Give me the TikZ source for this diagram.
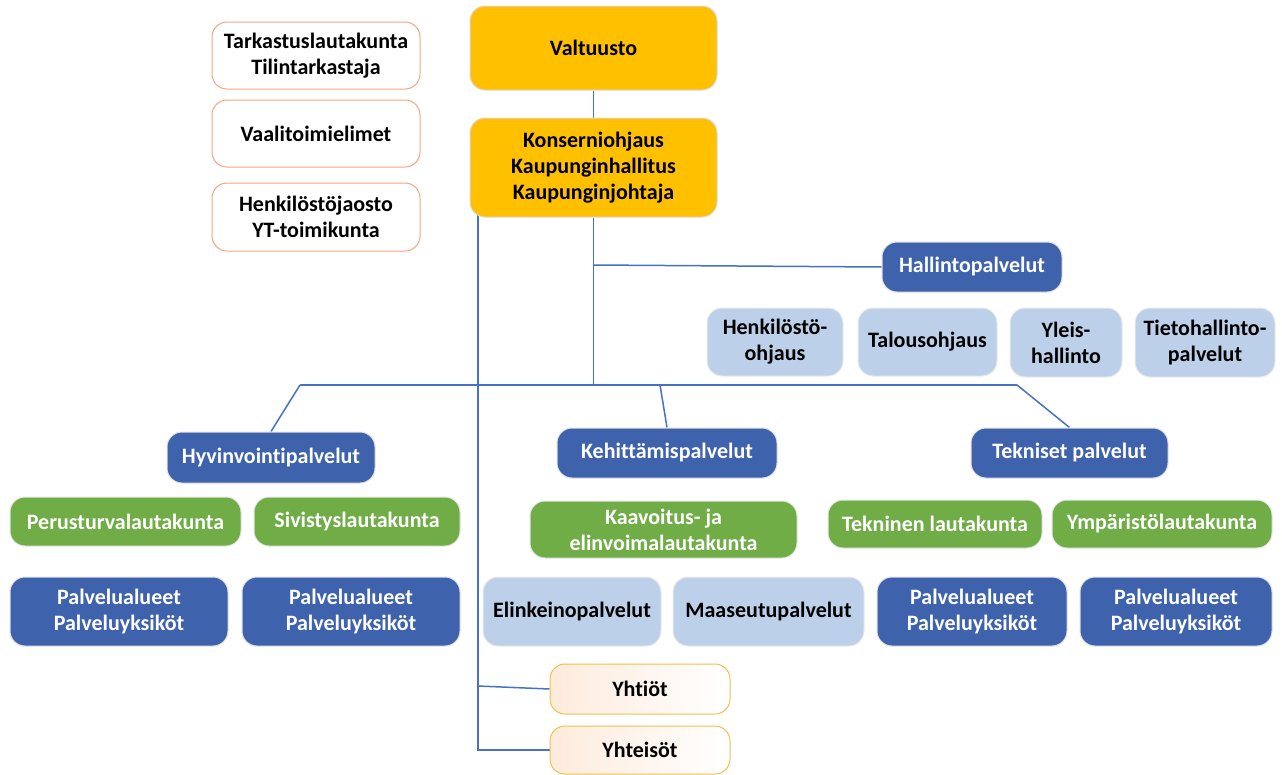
\documentclass[tikz,border=0pt]{standalone}
\usepackage{fontspec}
\setmainfont{Carlito}[Ligatures=NoCommon]
\usetikzlibrary{backgrounds}
\definecolor{gold}{HTML}{FFC000}
\definecolor{dblue}{HTML}{3F62AD}
\definecolor{lblue}{HTML}{BDD0E9}
\definecolor{lgreen}{HTML}{70AD47}
\definecolor{orng}{HTML}{F4A582}
\definecolor{ylw}{HTML}{F0C04A}
\definecolor{peach}{HTML}{FDEBDC}
\definecolor{conn}{HTML}{4472C4}
\tikzset{
  base/.style={rounded corners=15pt, align=center, font=\bfseries\fontsize{22}{26}\selectfont, inner sep=1pt},
  goldbox/.style={base, fill=gold, draw=black!15, line width=1pt, text=black},
  orbox/.style={base, fill=white, draw=orng, line width=1pt, text=black},
  dbbox/.style={base, fill=dblue, draw=black!12, line width=1pt, text=white},
  lbbox/.style={base, fill=lblue, draw=black!8, line width=1pt, text=black},
  grbox/.style={base, fill=lgreen, draw=black!10, line width=1pt, text=white},
  ylbox/.style={base, left color=peach, right color=white, draw=ylw, line width=1pt, text=black},
  link/.style={draw=conn, line width=1.5pt}
}
\newcommand\bx[7]{\node[#1, minimum width=#5pt, minimum height=#6pt] (#2) at (#3,#4) {#7};}
\begin{document}
\begin{tikzpicture}[x=1pt,y=-1pt]
\useasboundingbox (0,0) rectangle (1282,774);
\coordinate (trunkA) at (593.5,265);
\coordinate (bus) at (593.5,385);
\coordinate (busL) at (300,385);
\coordinate (busM) at (660,385);
\coordinate (busR) at (1017,385);
\coordinate (lt) at (478,205);
\coordinate (lt1) at (478,686);
\coordinate (lt2) at (478,750);

\bx{goldbox}{val}{593.5}{48}{247}{84}{Valtuusto}
\bx{goldbox}{kon}{593.5}{167.5}{247}{99}{Konserniohjaus\\Kaupunginhallitus\\Kaupunginjohtaja}
\bx{orbox}{tark}{316}{55.5}{208}{67}{Tarkastuslautakunta\\Tilintarkastaja}
\bx{orbox}{vaali}{316}{133.5}{208}{67}{Vaalitoimielimet}
\bx{orbox}{henk}{316}{217}{208}{68}{Henkilöstöjaosto\\YT-toimikunta}
\bx{dbbox}{hall}{972}{267}{180}{50}{Hallintopalvelut}
\bx{lbbox}{hoh}{775}{342}{136}{68}{Henkilöstö-\\ohjaus}
\bx{lbbox}{tal}{927.5}{342}{139}{68}{Talousohjaus}
\bx{lbbox}{yle}{1066}{342.5}{112}{69}{Yleis-\\hallinto}
\bx{lbbox}{tie}{1205}{342.5}{140}{69}{Tietohallinto-\\palvelut}
\bx{dbbox}{hyv}{271}{457.5}{208}{51}{Hyvinvointipalvelut}
\bx{dbbox}{keh}{667}{453}{220}{50}{Kehittämispalvelut}
\bx{dbbox}{tek}{1069.5}{453}{197}{50}{Tekniset palvelut}
\bx{grbox}{per}{125.5}{521.5}{231}{49}{Perusturvalautakunta}
\bx{grbox}{siv}{357}{521.5}{206}{49}{Sivistyslautakunta}
\bx{grbox}{kaa}{663.5}{529.5}{267}{57}{Kaavoitus- ja\\elinvoimalautakunta}
\bx{grbox}{tekl}{935}{524}{214}{48}{Tekninen lautakunta}
\bx{grbox}{ymp}{1162}{524}{220}{48}{Ympäristölautakunta}
\bx{dbbox}{pa1}{119}{611.5}{218}{69}{Palvelualueet\\Palveluyksiköt}
\bx{dbbox}{pa2}{351}{611.5}{218}{69}{Palvelualueet\\Palveluyksiköt}
\bx{lbbox}{elk}{572}{611.5}{178}{69}{Elinkeinopalvelut}
\bx{lbbox}{maa}{768.5}{611.5}{191}{69}{Maaseutupalvelut}
\bx{dbbox}{pa3}{972}{611.5}{190}{69}{Palvelualueet\\Palveluyksiköt}
\bx{dbbox}{pa4}{1176}{611.5}{192}{69}{Palvelualueet\\Palveluyksiköt}
\bx{ylbox}{yht}{640}{689}{180}{50}{Yhtiöt}
\bx{ylbox}{yhs}{640}{750}{180}{48}{Yhteisöt}

\begin{scope}[on background layer]
\draw[link] (val.south) -- (kon.north);
\draw[link] (kon.south) -- (bus);
\draw[link] (trunkA) -- (hall.west);
\draw[link] (busL) -- (busR);
\draw[link] (busL) -- (hyv.north);
\draw[link] (busM) -- (keh.north);
\draw[link] (busR) -- (tek.north);
\draw[link] (lt) -- (lt2) -- (yhs.west);
\draw[link] (lt1) -- (yht.west);
\end{scope}
\end{tikzpicture}
\end{document}
